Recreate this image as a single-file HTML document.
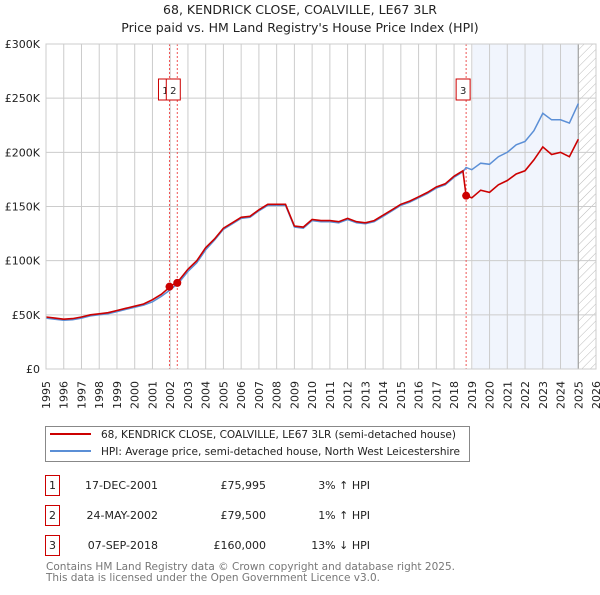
<!DOCTYPE html>
<html><head><meta charset="utf-8"><style>
body{margin:0;background:#fff;font-family:"Liberation Sans","DejaVu Sans",sans-serif}
svg text{font-family:"DejaVu Sans","Liberation Sans",sans-serif}
</style></head><body>
<svg id="c" width="600" height="590" xmlns="http://www.w3.org/2000/svg">
<text x="300" y="14" text-anchor="middle" font-size="12.5" fill="#222">68, KENDRICK CLOSE, COALVILLE, LE67 3LR</text>
<text x="300" y="32" text-anchor="middle" font-size="12.5" fill="#222">Price paid vs. HM Land Registry's House Price Index (HPI)</text>
<g id="plot"></g>
<g>
<rect x="45.5" y="426.5" width="424" height="35" fill="#fff" stroke="#888" stroke-width="1"/>
<line x1="50" y1="434" x2="91" y2="434" stroke="#cc0000" stroke-width="2"/>
<text x="101" y="438" font-size="11" fill="#222" textLength="355" lengthAdjust="spacingAndGlyphs">68, KENDRICK CLOSE, COALVILLE, LE67 3LR (semi-detached house)</text>
<line x1="50" y1="451" x2="91" y2="451" stroke="#5b8fd6" stroke-width="2"/>
<text x="101" y="455" font-size="11" fill="#222" textLength="359" lengthAdjust="spacingAndGlyphs">HPI: Average price, semi-detached house, North West Leicestershire</text>
</g>
<g font-size="11" fill="#222">
<g><rect x="45.5" y="475.5" width="14" height="20" fill="none" stroke="#cc0000"/><text x="52.5" y="489" text-anchor="middle">1</text><text x="158" y="489" text-anchor="end">17-DEC-2001</text><text x="266" y="489" text-anchor="end">£75,995</text><text x="370" y="489" text-anchor="end">3% ↑ HPI</text></g>
<g><rect x="45.5" y="505.5" width="14" height="20" fill="none" stroke="#cc0000"/><text x="52.5" y="519" text-anchor="middle">2</text><text x="158" y="519" text-anchor="end">24-MAY-2002</text><text x="266" y="519" text-anchor="end">£79,500</text><text x="370" y="519" text-anchor="end">1% ↑ HPI</text></g>
<g><rect x="45.5" y="535.5" width="14" height="20" fill="none" stroke="#cc0000"/><text x="52.5" y="549" text-anchor="middle">3</text><text x="158" y="549" text-anchor="end">07-SEP-2018</text><text x="266" y="549" text-anchor="end">£160,000</text><text x="370" y="549" text-anchor="end">13% ↓ HPI</text></g>
</g>
<text x="46" y="570" font-size="11" fill="#777" textLength="409" lengthAdjust="spacingAndGlyphs">Contains HM Land Registry data © Crown copyright and database right 2025.</text>
<text x="46" y="581" font-size="11" fill="#777" textLength="334" lengthAdjust="spacingAndGlyphs">This data is licensed under the Open Government Licence v3.0.</text>
</svg>
<script>
const years=[1995,1995.5,1996,1996.5,1997,1997.5,1998,1998.5,1999,1999.5,2000,2000.5,2001,2001.5,2002,2002.5,2003,2003.5,2004,2004.5,2005,2005.5,2006,2006.5,2007,2007.5,2008,2008.5,2009,2009.5,2010,2010.5,2011,2011.5,2012,2012.5,2013,2013.5,2014,2014.5,2015,2015.5,2016,2016.5,2017,2017.5,2018,2018.5,2018.68,2019,2019.5,2020,2020.5,2021,2021.5,2022,2022.5,2023,2023.5,2024,2024.5,2025];
const hpiValues=[47,46,45,45.5,47,49,50,51,53,55,57,59,62,67,73,80,90,98,110,119,129,134,139,140,146,151,151,151,131,130,137,136,136,135,138,135,134,136,141,146,151,154,158,162,167,170,177,182,186,184,190,189,196,200,207,210,220,236,230,230,227,245];
const propValues=[48,47,46,46.5,48,50,51,52,54,56,58,60,64,69,76,82,92,100,112,120,130,135,140,141,147,152,152,152,132,131,138,137,137,136,139,136,135,137,142,147,152,155,159,163,168,171,178,183,160,158,165,163,170,174,180,183,193,205,198,200,196,212];
const saleYears=[2001.96,2002.4,2018.68];
const salePrices=[75995,79500,160000];
const saleLabels=["1","2","3"];
const yTicks=[0,50000,100000,150000,200000,250000,300000];
const yTickLabels=["£0","£50K","£100K","£150K","£200K","£250K","£300K"];
const xTicks=[1995,1996,1997,1998,1999,2000,2001,2002,2003,2004,2005,2006,2007,2008,2009,2010,2011,2012,2013,2014,2015,2016,2017,2018,2019,2020,2021,2022,2023,2024,2025,2026];

const L=46,R=596,T=44,B=369;
const X=y=>L+(y-1995)/(2026-1995)*(R-L);
const Y=v=>B-v/300000*(B-T);
const NS="http://www.w3.org/2000/svg";
const g=document.getElementById('plot');
function mk(t,a,p){const e=document.createElementNS(NS,t);for(const k in a)e.setAttribute(k,a[k]);(p||g).appendChild(e);return e;}

const shade=mk('rect',{x:X(2019.05),y:T,width:X(2025)-X(2019.05),height:B-T,fill:'#eef3fc',opacity:0.8});


const defs=mk('defs',{});
const pat=mk('pattern',{id:'hatch',patternUnits:'userSpaceOnUse',width:6,height:6,patternTransform:'rotate(45)'},defs);
mk('line',{x1:0,y1:0,x2:0,y2:6,stroke:'#bbb','stroke-width':1},pat);
const hat=mk('rect',{x:X(2025),y:T,width:R-X(2025),height:B-T,fill:'url(#hatch)'});



xTicks.forEach(t=>{
  const l=mk('line',{x1:X(t),x2:X(t),y1:T,y2:B,stroke:'#ccc','stroke-width':1});
  
  
  const tx=mk('text',{x:X(t)+4,y:B+12,'text-anchor':'end','font-size':11,fill:'#222',transform:`rotate(-90 ${X(t)+4} ${B+12})`});
  tx.textContent=t;
  
  
});
yTicks.forEach((t,i)=>{
  const l=mk('line',{x1:L,x2:R,y1:Y(t),y2:Y(t),stroke:'#ccc','stroke-width':1});
  
  
  const tx=mk('text',{x:L-6,y:Y(t)+4,'text-anchor':'end','font-size':11,fill:'#222'});
  tx.textContent=yTickLabels[i];
  
  
});
const ax=mk('line',{x1:X(2025),x2:X(2025),y1:T,y2:B,stroke:'#999','stroke-width':1});



saleYears.forEach(s=>{
  const l=mk('line',{x1:X(s),x2:X(s),y1:T,y2:B,stroke:'#e55','stroke-width':1,'stroke-dasharray':'2,2'});
  
  
});

function path(vals){return vals.map((v,i)=>(i?'L':'M')+X(years[i]).toFixed(1)+','+Y(v*1000).toFixed(1)).join('');}
const hp=mk('path',{d:path(hpiValues),fill:'none',stroke:'#5b8fd6','stroke-width':1.5});


const pp=mk('path',{d:path(propValues),fill:'none',stroke:'#cc0000','stroke-width':1.6});



const badgeOffsets=[-11,-11,-10];
saleYears.forEach((s,i)=>{
  const c=mk('circle',{cx:X(s),cy:Y(salePrices[i]),r:4,fill:'#cc0000'});
  
  
  const bx=X(s)+badgeOffsets[i];
  const r=mk('rect',{x:bx,y:79,width:14,height:21,fill:'#fff',stroke:'#cc0000'});
  
  
  const t=mk('text',{x:bx+7,y:94,'text-anchor':'middle','font-size':10,fill:'#222'});
  t.textContent=saleLabels[i];
  
  
});
const fr=mk('rect',{x:L,y:T,width:R-L,height:B-T,fill:'none',stroke:'#ccc'});


</script>
</body></html>
